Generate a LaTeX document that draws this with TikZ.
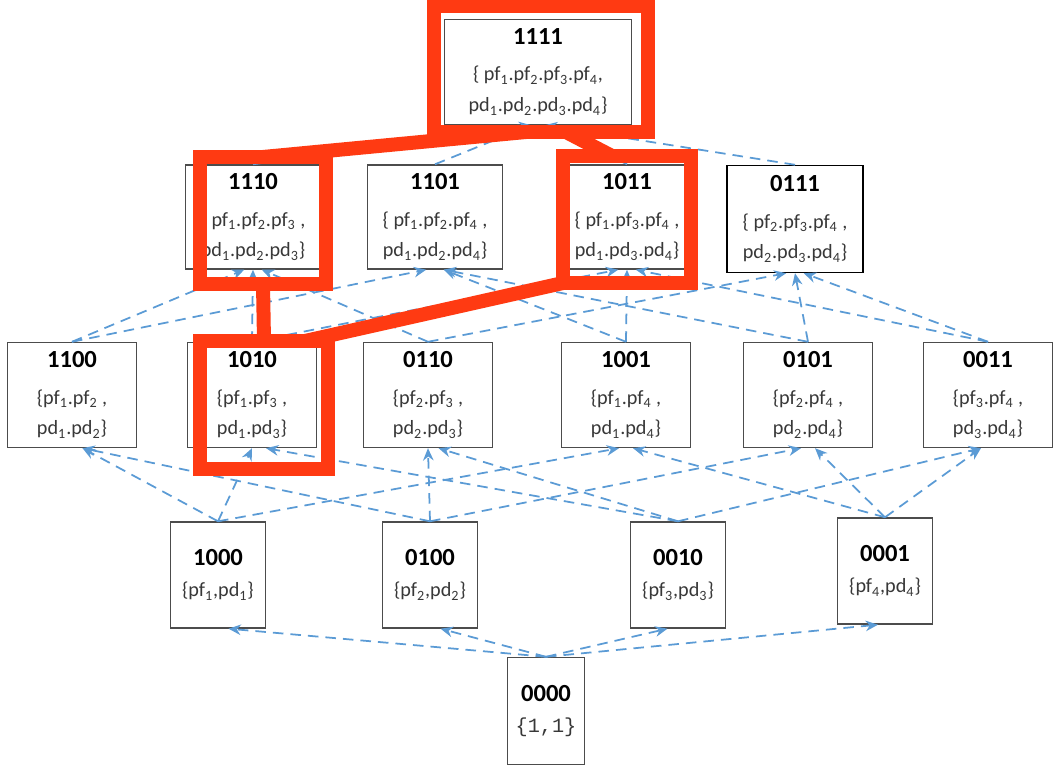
\documentclass[tikz,border=0pt]{standalone}
\usepackage{fontspec}
\setmainfont{Carlito}
\newfontfamily\monofont{Liberation Mono}
\usetikzlibrary{arrows.meta,calc}
\definecolor{hlred}{RGB}{255,58,18}
\definecolor{linkblue}{RGB}{91,155,213}
\newcommand{\ttl}[1]{{\fontsize{14}{17}\selectfont\bfseries\color{black} #1}}
\newcommand{\pfi}[1]{pf\textsubscript{#1}}
\newcommand{\pdi}[1]{pd\textsubscript{#1}}
\tikzset{
  state/.style={draw=black!70, line width=0.8pt, fill=white, align=center, inner sep=0pt,
    text=black!78, font=\fontsize{11.5}{17.6}\selectfont},
  link/.style={linkblue, line width=1pt, dash pattern=on 6pt off 4pt,
    -{Stealth[length=7pt,width=6pt]}},
  hl/.style={draw=hlred, line width=0.28cm, outer sep=0pt, inner sep=0pt},
  hlline/.style={hlred, line width=0.28cm},
}
\begin{document}
\begin{tikzpicture}
  \useasboundingbox (0,0) rectangle (21.24,15.44);
  % all four
  \node[state, minimum width=3.74cm, minimum height=2.1cm] (n1111) at (10.76,14.00)
    {\ttl{1111}\\[3pt] \{ \pfi{1}.\pfi{2}.\pfi{3}.\pfi{4},\\ \pdi{1}.\pdi{2}.\pdi{3}.\pdi{4}\}};
  % three of four
  \node[state, minimum width=2.7cm, minimum height=2.08cm] (n1110) at (5.06,11.10)
    {\ttl{1110}\\[3pt] \{ \pfi{1}.\pfi{2}.\pfi{3} ,\\ \pdi{1}.\pdi{2}.\pdi{3}\}};
  \node[state, minimum width=2.7cm, minimum height=2.08cm] (n1101) at (8.70,11.10)
    {\ttl{1101}\\[3pt] \{ \pfi{1}.\pfi{2}.\pfi{4} ,\\ \pdi{1}.\pdi{2}.\pdi{4}\}};
  \node[state, minimum width=2.7cm, minimum height=2.08cm] (n1011) at (12.54,11.10)
    {\ttl{1011}\\[3pt] \{ \pfi{1}.\pfi{3}.\pfi{4} ,\\ \pdi{1}.\pdi{3}.\pdi{4}\}};
  \node[state, draw=black, minimum width=2.72cm, minimum height=2.14cm] (n0111) at (15.90,11.06)
    {\ttl{0111}\\[3pt] \{ \pfi{2}.\pfi{3}.\pfi{4} ,\\ \pdi{2}.\pdi{3}.\pdi{4}\}};
  % two of four
  \node[state, minimum width=2.58cm, minimum height=2.1cm] (n1100) at (1.44,7.54)
    {\ttl{1100}\\[3pt] \{\pfi{1}.\pfi{2} ,\\ \pdi{1}.\pdi{2}\}};
  \node[state, minimum width=2.58cm, minimum height=2.1cm] (n1010) at (5.04,7.54)
    {\ttl{1010}\\[3pt] \{\pfi{1}.\pfi{3} ,\\ \pdi{1}.\pdi{3}\}};
  \node[state, minimum width=2.58cm, minimum height=2.1cm] (n0110) at (8.56,7.54)
    {\ttl{0110}\\[3pt] \{\pfi{2}.\pfi{3} ,\\ \pdi{2}.\pdi{3}\}};
  \node[state, minimum width=2.58cm, minimum height=2.1cm] (n1001) at (12.52,7.54)
    {\ttl{1001}\\[3pt] \{\pfi{1}.\pfi{4} ,\\ \pdi{1}.\pdi{4}\}};
  \node[state, minimum width=2.58cm, minimum height=2.1cm] (n0101) at (16.16,7.54)
    {\ttl{0101}\\[3pt] \{\pfi{2}.\pfi{4} ,\\ \pdi{2}.\pdi{4}\}};
  \node[state, minimum width=2.58cm, minimum height=2.1cm] (n0011) at (19.76,7.54)
    {\ttl{0011}\\[3pt] \{\pfi{3}.\pfi{4} ,\\ \pdi{3}.\pdi{4}\}};
  % one of four
  \node[state, minimum width=1.9cm, minimum height=2.12cm] (n1000) at (4.36,3.94)
    {\ttl{1000}\\ \{\pfi{1},\pdi{1}\}};
  \node[state, minimum width=1.9cm, minimum height=2.12cm] (n0100) at (8.60,3.94)
    {\ttl{0100}\\ \{\pfi{2},\pdi{2}\}};
  \node[state, minimum width=1.9cm, minimum height=2.12cm] (n0010) at (13.56,3.94)
    {\ttl{0010}\\ \{\pfi{3},\pdi{3}\}};
  \node[state, minimum width=1.9cm, minimum height=2.12cm] (n0001) at (17.70,4.02)
    {\ttl{0001}\\ \{\pfi{4},\pdi{4}\}};
  % none
  \node[state, minimum width=1.54cm, minimum height=2.14cm] (n0000) at (10.92,1.22)
    {\ttl{0000}\\ {\monofont\{1,1\}}};

  % links, bottom to top
  \draw[link] (n0000.north) -- ([xshift=6pt]n1000.south);
  \draw[link] (n0000.north) -- ([xshift=6pt]n0100.south);
  \draw[link] (n0000.north) -- ([xshift=-6pt]n0010.south);
  \draw[link] (n0000.north) -- ([xshift=-4pt]n0001.south);

  \draw[link] (n1000.north) -- ([xshift=6pt]n1100.south);
  \draw[link] (n1000.north) -- (n1010.south);
  \draw[link] (n1000.north) -- ([xshift=-4pt]n1001.south);
  \draw[link] (n0100.north) -- ([xshift=6pt]n1100.south);
  \draw[link] (n0100.north) -- (n0110.south);
  \draw[link] (n0100.north) -- ([xshift=-4pt]n0101.south);
  \draw[link] (n0010.north) -- ([xshift=8pt]n1010.south);
  \draw[link] (n0010.north) -- ([xshift=6pt]n0110.south);
  \draw[link] (n0010.north) -- ([xshift=-4pt]n0011.south);
  \draw[link] (n0001.north) -- ([xshift=4pt]n1001.south);
  \draw[link] (n0001.north) -- ([xshift=4pt]n0101.south);
  \draw[link] (n0001.north) -- ([xshift=-4pt]n0011.south);

  \draw[link] (n1100.north) -- ([xshift=-5pt]n1110.south);
  \draw[link] (n1100.north) -- ([xshift=-5pt]n1101.south);
  \draw[link] (n1010.north) -- (n1110.south);
  \draw[link] (n1010.north) -- ([xshift=-5pt]n1011.south);
  \draw[link] (n0110.north) -- ([xshift=5pt]n1110.south);
  \draw[link] (n0110.north) -- ([xshift=-5pt]n0111.south);
  \draw[link] (n1001.north) -- ([xshift=5pt]n1101.south);
  \draw[link] (n1001.north) -- (n1011.south);
  \draw[link] (n0101.north) -- ([xshift=5pt]n1101.south);
  \draw[link] (n0101.north) -- (n0111.south);
  \draw[link] (n0011.north) -- ([xshift=5pt]n1011.south);
  \draw[link] (n0011.north) -- ([xshift=5pt]n0111.south);

  \draw[link] (n1110.north) -- ([xshift=-4pt]n1111.south);
  \draw[link] (n1101.north) -- ([xshift=-4pt]n1111.south);
  \draw[link] (n1011.north) -- ([xshift=4pt]n1111.south);
  \draw[link] (n0111.north) -- ([xshift=4pt]n1111.south);

  % highlighted path
  \node[hl, minimum width=4.28cm, minimum height=2.52cm] (h1111) at (10.82,14.06) {};
  \node[hl, minimum width=2.52cm, minimum height=2.54cm] (h1110) at (5.26,11.03) {};
  \node[hl, minimum width=2.56cm, minimum height=2.54cm] (h1011) at (12.54,11.05) {};
  \node[hl, minimum width=2.56cm, minimum height=2.56cm] (h1010) at (5.28,7.34) {};
  \draw[hlline] (h1110.north) -- ($(h1111.south)+(-0.3,0)$);
  \draw[hlline] ($(h1111.south)+(0.5,0)$) -- ($(h1011.north)+(-0.3,0)$);
  \draw[hlline] (h1110.south) -- (h1010.north);
  \draw[hlline] (h1011.south west) -- ($(h1010.north)+(0.82,0)$);
\end{tikzpicture}
\end{document}
